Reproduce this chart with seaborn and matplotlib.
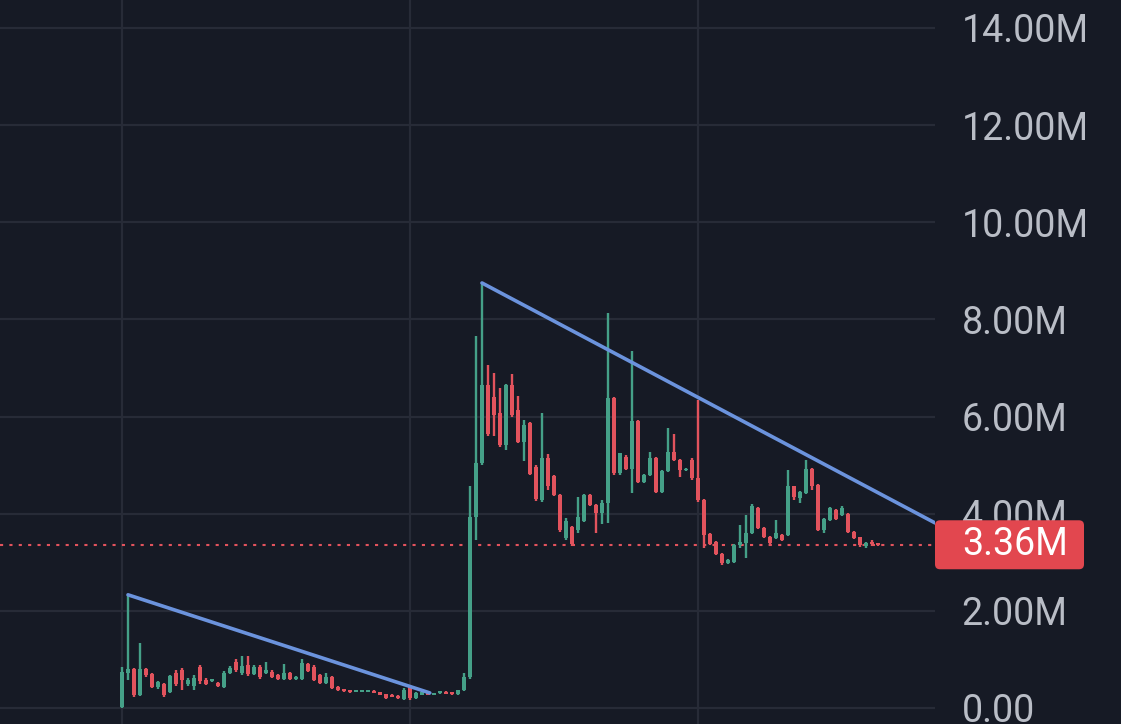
import numpy as np
import pandas as pd
import seaborn as sns
import matplotlib
matplotlib.use("Agg")
import matplotlib.pyplot as plt
from matplotlib.patches import FancyBboxPatch
#-----------------------------
# candle values in millions, one per bar
opens = [0.03, 0.72, 0.80, 0.27, 0.80, 0.70, 0.44, 0.50, 0.33, 0.72,
         0.78, 0.50, 0.45, 0.85, 0.58, 0.56, 0.52, 0.44, 0.72, 0.95,
         0.72, 0.88, 0.70, 0.85, 0.72, 0.75, 0.68, 0.60, 0.72, 0.60,
         0.60, 0.90, 0.85, 0.68, 0.52, 0.64, 0.43, 0.39, 0.37, 0.33,
         0.33, 0.33, 0.35, 0.32, 0.28, 0.27, 0.25, 0.18, 0.44, 0.20,
         0.27, 0.30, 0.27, 0.30, 0.33, 0.30, 0.28, 0.37, 0.64, 3.94,
         5.04, 6.65, 6.41, 6.07, 5.41, 6.65, 6.14, 5.48, 5.86, 4.97,
         4.28, 5.14, 4.78, 4.39, 3.50, 3.73, 3.66, 3.84, 4.38, 4.18,
         4.01, 4.21, 6.38, 4.83, 5.17, 4.93, 5.90, 4.66, 4.80, 5.14,
         4.45, 4.87, 5.28, 5.11, 4.89, 5.11, 4.73, 4.28, 3.58, 3.42,
         3.18, 2.99, 3.01, 3.36, 3.40, 3.60, 4.11, 3.70, 3.53, 3.49,
         3.56, 3.56, 4.56, 4.32, 4.42, 4.93, 4.59, 3.67, 3.87, 4.08,
         3.97, 3.99, 3.63, 3.51, 3.33, 3.42, 3.37]
highs = [0.85, 2.33, 0.82, 1.34, 0.82, 0.72, 0.56, 0.52, 0.68, 0.78,
         0.82, 0.62, 0.68, 0.88, 0.62, 0.60, 0.54, 0.76, 0.86, 1.00,
         1.08, 1.08, 0.88, 0.88, 0.94, 0.78, 0.70, 0.90, 0.74, 0.66,
         1.01, 0.92, 0.88, 0.70, 0.72, 0.66, 0.45, 0.40, 0.38, 0.36,
         0.36, 0.36, 0.36, 0.33, 0.29, 0.28, 0.26, 0.42, 0.47, 0.33,
         0.33, 0.31, 0.31, 0.34, 0.34, 0.31, 0.38, 0.72, 4.56, 7.65,
         8.78, 7.06, 6.89, 6.58, 6.68, 6.88, 6.42, 5.93, 5.88, 5.00,
         6.07, 5.23, 4.80, 4.41, 3.92, 3.75, 4.35, 4.40, 4.40, 4.20,
         4.28, 8.13, 6.40, 5.25, 5.20, 7.34, 5.92, 4.82, 5.28, 5.16,
         4.90, 5.76, 5.65, 5.13, 4.95, 5.14, 6.34, 4.30, 3.60, 3.44,
         3.20, 3.07, 3.38, 3.77, 3.97, 4.20, 4.13, 3.72, 3.55, 3.87,
         3.58, 4.90, 4.58, 4.47, 5.10, 4.95, 4.61, 3.92, 4.13, 4.10,
         4.15, 4.01, 3.65, 3.53, 3.42, 3.45, 3.38]
lows = [0.00, 0.58, 0.22, 0.25, 0.64, 0.42, 0.40, 0.22, 0.30, 0.45,
        0.36, 0.45, 0.36, 0.50, 0.47, 0.54, 0.43, 0.42, 0.70, 0.75,
        0.68, 0.66, 0.68, 0.60, 0.70, 0.62, 0.58, 0.58, 0.58, 0.58,
        0.58, 0.74, 0.55, 0.50, 0.50, 0.40, 0.35, 0.32, 0.31, 0.32,
        0.32, 0.32, 0.30, 0.26, 0.19, 0.22, 0.19, 0.16, 0.17, 0.18,
        0.26, 0.26, 0.26, 0.29, 0.28, 0.27, 0.27, 0.35, 0.60, 3.46,
        5.00, 5.60, 5.59, 5.38, 5.31, 6.00, 5.45, 5.09, 4.80, 4.27,
        4.25, 4.49, 4.37, 3.63, 3.46, 3.34, 3.60, 3.82, 4.15, 3.60,
        3.79, 3.80, 4.80, 4.80, 4.90, 4.42, 4.64, 4.64, 4.78, 4.43,
        4.43, 4.85, 5.08, 4.76, 4.87, 4.70, 4.25, 3.29, 3.35, 3.15,
        2.95, 2.96, 2.98, 3.30, 3.08, 3.58, 3.68, 3.50, 3.33, 3.47,
        3.44, 3.54, 4.28, 4.22, 4.40, 4.49, 3.64, 3.60, 3.85, 3.88,
        3.95, 3.60, 3.47, 3.32, 3.30, 3.34, 3.34]
closes = [0.75, 0.80, 0.27, 0.80, 0.67, 0.44, 0.54, 0.27, 0.65, 0.50,
          0.58, 0.58, 0.62, 0.56, 0.50, 0.58, 0.45, 0.73, 0.82, 0.78,
          0.86, 0.70, 0.85, 0.64, 0.78, 0.64, 0.60, 0.72, 0.60, 0.64,
          0.92, 0.76, 0.58, 0.52, 0.64, 0.42, 0.36, 0.34, 0.33, 0.35,
          0.35, 0.35, 0.31, 0.27, 0.20, 0.23, 0.20, 0.37, 0.20, 0.31,
          0.32, 0.27, 0.30, 0.33, 0.29, 0.28, 0.37, 0.64, 3.94, 5.04,
          6.65, 5.65, 6.03, 5.41, 6.65, 6.03, 5.48, 5.83, 4.82, 4.30,
          5.14, 4.56, 4.39, 3.67, 3.85, 3.38, 3.94, 4.38, 4.18, 4.01,
          4.21, 6.38, 4.83, 5.24, 4.93, 5.90, 4.66, 4.80, 5.14, 4.45,
          4.87, 5.28, 5.11, 4.90, 4.93, 4.73, 4.28, 3.56, 3.38, 3.18,
          2.98, 3.05, 3.36, 3.42, 3.60, 4.15, 3.70, 3.53, 3.40, 3.60,
          3.46, 4.56, 4.35, 4.45, 4.93, 4.56, 3.67, 3.90, 4.11, 3.90,
          4.11, 3.63, 3.49, 3.35, 3.40, 3.37, 3.36]

# hand drawn trend lines (bar index, value)
line1_x = [1, 51.3]
line1_y = [2.33, 0.31]
line2_x = [60, 135.5]
line2_y = [8.75, 3.81]

last_price = 3.36
grid_bars = [0, 48, 96]
ytick_vals = [0, 2, 4, 6, 8, 10, 12, 14]
ytick_labels = ["0.00", "2.00M", "4.00M", "6.00M", "8.00M", "10.00M", "12.00M", "14.00M"]
#-----------------------------
bg = "#161a25"
grid = "#272b37"
up = "#45a088"
down = "#e2535d"
textc = "#b9bdc6"

sns.set_theme(style="dark", rc={"axes.facecolor": bg, "figure.facecolor": bg,
                                "axes.edgecolor": bg, "grid.color": grid})
plt.rcParams['font.family'] = ['Roboto', 'DejaVu Sans']

df = pd.DataFrame({"o": opens, "h": highs, "l": lows, "c": closes})
df["i"] = np.arange(len(df))
df["col"] = np.where(df.c >= df.o, up, down)
df["bot"] = df[["o", "c"]].min(axis=1)
df["ht"] = (df.c - df.o).abs().clip(lower=0.04)

fig = plt.figure(figsize=(11.21, 7.24), dpi=100)
ax = fig.add_axes([0, 0, 935 / 1121, 1])

ax.vlines(df.i, df.l, df.h, colors=df.col, lw=1.7, zorder=3)
ax.bar(df.i, df.ht, bottom=df.bot, width=0.78, color=df.col, linewidth=0, zorder=3)

trend = pd.DataFrame({"x": line1_x + line2_x, "y": line1_y + line2_y,
                      "seg": ["a", "a", "b", "b"]})
sns.lineplot(data=trend, x="x", y="y", units="seg", estimator=None,
             color="#6b93dd", lw=2.6, ax=ax, zorder=4)

ax.axhline(last_price, color=down, lw=1.5, ls=(0, (1.5, 3)), zorder=2)

ax.set_xlim(-122 / 6, 935 / 6 - 122 / 6)
ax.set_ylim(-0.33, 14.576)
ax.set_xticks(grid_bars)
ax.set_xticklabels([])
ax.set_yticks(ytick_vals)
ax.set_yticklabels(ytick_labels)
ax.yaxis.tick_right()
ax.tick_params(axis="y", length=0, pad=19, labelsize=27, labelcolor=textc)
ax.tick_params(axis="x", length=0)
ax.grid(True, color=grid, lw=1.6)
ax.set_xlabel("")
ax.set_ylabel("")
for s in ax.spines.values():
    s.set_visible(False)

# last price tag
fig.canvas.draw()
ypix = ax.transData.transform((0, last_price))[1]
tag = FancyBboxPatch((935 / 100, (ypix - 24.5) / 100), 149 / 100, 49 / 100,
                     boxstyle="round,pad=0,rounding_size=0.05",
                     transform=fig.dpi_scale_trans, facecolor="#e2474f",
                     edgecolor="none", zorder=10)
fig.patches.append(tag)
fig.text(962 / 1121, ypix / 724, "3.36M", color="white", fontsize=27,
         ha="left", va="center", zorder=11)

fig.savefig("out.png", dpi=100, facecolor=bg)
